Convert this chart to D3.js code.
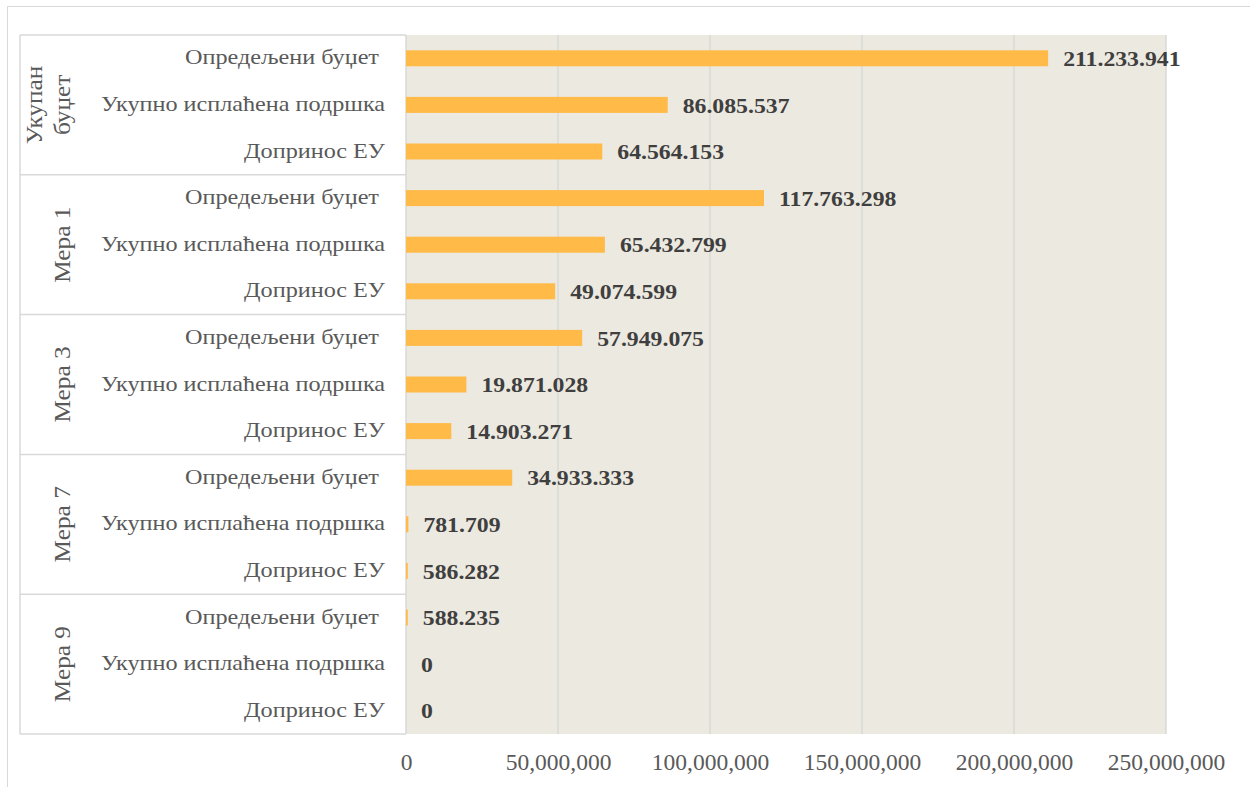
<!DOCTYPE html>
<html>
<head>
<meta charset="utf-8">
<script src="https://cdn.jsdelivr.net/npm/d3@7"></script>
<style>
  body { margin: 0; background: #fff; }
  svg { display: block; }
  text { font-family: "Liberation Serif", "Times New Roman", serif; }
</style>
</head>
<body>
<svg id="chart" width="1250" height="787"></svg>
<script>
// groups (top to bottom) and the three measures within each group
const groups = [["Укупан", "буџет"], ["Мера 1"], ["Мера 3"], ["Мера 7"], ["Мера 9"]];
const items = ["Опредељени буџет ", "Укупно исплаћена подршка", "Допринос ЕУ"];
const values = [
    [211233941, 86085537, 64564153],
    [117763298, 65432799, 49074599],
    [57949075, 19871028, 14903271],
    [34933333, 781709, 586282],
    [588235, 0, 0]
];
const valueLabels = [
    ["211.233.941", "86.085.537", "64.564.153"],
    ["117.763.298", "65.432.799", "49.074.599"],
    ["57.949.075", "19.871.028", "14.903.271"],
    ["34.933.333", "781.709", "586.282"],
    ["588.235", "0", "0"]
];
const xTicks = [0, 50000000, 100000000, 150000000, 200000000, 250000000];

const svg = d3.select("#chart");
const plotLeft = 406, plotRight = 1166, plotTop = 35, plotBottom = 734, catLeft = 20;

// outer frame
svg.append("rect")
    .attr("x", 7.5).attr("y", 6.5)
    .attr("width", 1250).attr("height", 790)
    .attr("fill", "#fff")
    .attr("stroke", "#d9d9d9");

let rows = [];
groups.forEach((g, gi) => {
    items.forEach((it, ii) => {
        rows.push({ key: gi + "-" + ii, group: gi, item: it, value: values[gi][ii], label: valueLabels[gi][ii] });
    });
});

const x = d3.scaleLinear().domain([0, 250000000]).range([plotLeft, plotRight]);
const y = d3.scaleBand().domain(rows.map(d => d.key)).range([plotTop, plotBottom]);
const gy = d3.scaleBand().domain(groups.map((d, i) => i)).range([plotTop, plotBottom]);

// plot background
svg.append("rect")
    .attr("x", plotLeft).attr("y", plotTop)
    .attr("width", plotRight - plotLeft).attr("height", plotBottom - plotTop)
    .attr("fill", "#ece9e0");

// gridlines
svg.append("g")
    .selectAll("line")
    .data(xTicks)
    .enter()
    .append("line")
    .attr("x1", d => x(d)).attr("x2", d => x(d))
    .attr("y1", plotTop).attr("y2", plotBottom)
    .attr("stroke", "#d9d9d9")
    .attr("stroke-width", 1.5);

// category box
svg.append("line")
    .attr("x1", catLeft).attr("x2", catLeft)
    .attr("y1", plotTop).attr("y2", plotBottom)
    .attr("stroke", "#d9d9d9").attr("stroke-width", 1.5);
svg.append("g")
    .selectAll("line")
    .data(d3.range(groups.length + 1))
    .enter()
    .append("line")
    .attr("x1", catLeft).attr("x2", plotLeft)
    .attr("y1", d => d < groups.length ? gy(d) : plotBottom)
    .attr("y2", d => d < groups.length ? gy(d) : plotBottom)
    .attr("stroke", "#d9d9d9").attr("stroke-width", 1.5);

// group labels, rotated (baseline of last line sits at x=70)
const gl = svg.append("g")
    .selectAll("text")
    .data(groups)
    .enter()
    .append("text")
    .attr("transform", (d, i) => `translate(${70 - (d.length - 1) * 28},${gy(i) + gy.bandwidth() / 2}) rotate(-90) scale(1.1,1)`)
    .attr("text-anchor", "middle")
    .attr("fill", "#595959")
    .attr("font-size", 23);
gl.selectAll("tspan")
    .data(d => d)
    .enter()
    .append("tspan")
    .attr("x", 0)
    .attr("y", (d, i) => i * 28)
    .text(d => d);

// item labels
svg.append("g")
    .selectAll("text")
    .data(rows)
    .enter()
    .append("text")
    .attr("transform", d => `translate(385,${y(d.key) + y.bandwidth() / 2}) scale(1.1,1)`)
    .attr("dy", "0.28em")
    .attr("text-anchor", "end")
    .style("white-space", "pre")
    .attr("fill", "#595959")
    .attr("font-size", 22)
    .text(d => d.item);

// bars
const barH = 16;
svg.append("g")
    .selectAll("rect")
    .data(rows)
    .enter()
    .append("rect")
    .attr("x", x(0))
    .attr("y", d => y(d.key) + y.bandwidth() / 2 - barH / 2)
    .attr("width", d => x(d.value) - x(0))
    .attr("height", barH)
    .attr("fill", "#ffba48");

// value labels
svg.append("g")
    .selectAll("text")
    .data(rows)
    .enter()
    .append("text")
    .attr("transform", d => `translate(${x(d.value) + 15},${y(d.key) + y.bandwidth() / 2}) scale(1.08,1)`)
    .attr("dy", "0.35em")
    .attr("fill", "#3f3f3f")
    .attr("font-size", 22)
    .attr("font-weight", "bold")
    .text(d => d.label);

// x axis labels
const axis = d3.axisBottom(x)
    .tickValues(xTicks)
    .tickFormat(d3.format(","))
    .tickSize(0)
    .tickPadding(19);
const ax = svg.append("g")
    .attr("transform", `translate(0,${plotBottom})`)
    .call(axis);
ax.select(".domain").remove();
ax.selectAll("text")
    .attr("font-family", "Liberation Serif, serif")
    .attr("font-size", 23.5)
    .attr("fill", "#595959");
</script>
</body>
</html>
